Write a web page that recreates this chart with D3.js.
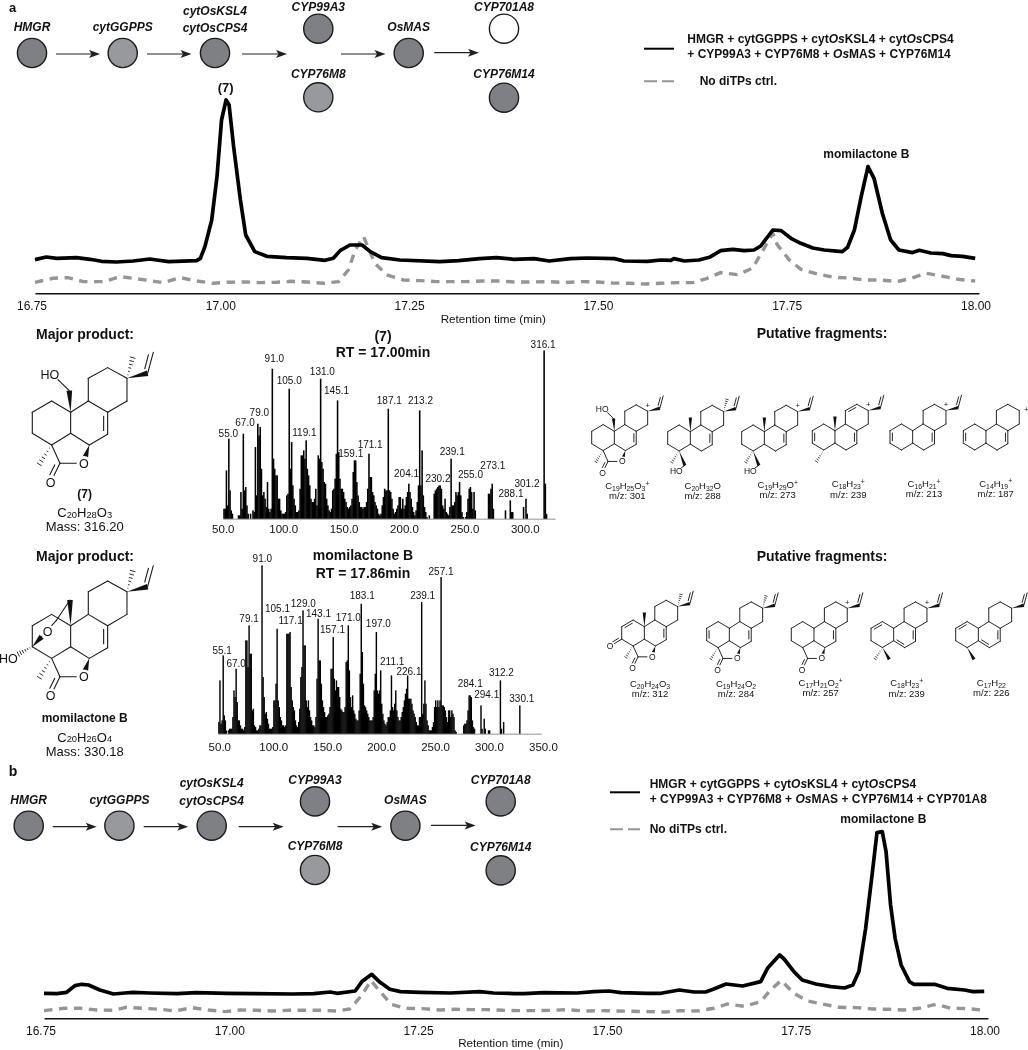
<!DOCTYPE html>
<html>
<head>
<meta charset="utf-8">
<script src="https://cdn.jsdelivr.net/npm/d3@7"></script>
<style>
    body { margin: 0; background: #fff; }
    svg { will-change: transform; }
    text { font-family: "Liberation Sans", Arial, sans-serif; fill: #111; }
</style>
</head>
<body>
<div id="chart"></div>
<script>
// ---- data ----
// chromatograms: [retention time (min), intensity]
const traceAMain = [[16.75,33.7],[16.765,36.3],[16.779,35],[16.805,35.7],[16.823,34],[16.838,32],[16.858,31.3],[16.88,32.3],[16.902,34.3],[16.911,33.3],[16.927,31.7],[16.964,32.7],[16.969,35],[16.975,46.7],[16.984,73.3],[16.991,116.7],[16.997,173.3],[17.003,193.3],[17.007,188.3],[17.013,146.7],[17.022,93.3],[17.029,58.3],[17.041,41.7],[17.057,37],[17.083,35.7],[17.11,35],[17.134,33],[17.145,35],[17.154,42.7],[17.167,48.3],[17.183,48.3],[17.194,41.7],[17.209,35.7],[17.233,33.3],[17.286,31.7],[17.311,32.7],[17.339,34.7],[17.361,35.7],[17.384,34],[17.411,34.7],[17.431,32.3],[17.459,34.7],[17.482,35.3],[17.517,34.7],[17.53,32.3],[17.561,32],[17.579,33.3],[17.592,33],[17.596,34.7],[17.61,32.3],[17.629,33.3],[17.643,36],[17.658,42.7],[17.674,44],[17.689,42.7],[17.702,43.3],[17.711,47.3],[17.727,63.3],[17.738,62.7],[17.751,55],[17.764,50],[17.78,45.3],[17.795,43.3],[17.819,41.7],[17.826,46],[17.835,63.3],[17.844,96.7],[17.853,126.7],[17.861,115],[17.872,80],[17.883,53.3],[17.894,43.3],[17.912,40.7],[17.921,43],[17.936,40.3],[17.952,39.7],[17.963,37.7],[17.978,37],[17.995,35]]
const traceACtrl = [[16.75,11],[16.774,15],[16.794,15.7],[16.814,11.7],[16.841,11.7],[16.863,16.7],[16.88,15],[16.902,12.7],[16.92,10.7],[16.942,15.7],[16.964,12.3],[16.986,10],[17.004,11],[17.03,11.3],[17.048,10.7],[17.07,11],[17.088,12],[17.11,11.3],[17.132,10],[17.152,11.7],[17.165,23.3],[17.174,43.3],[17.185,56.7],[17.2,30],[17.216,18.3],[17.238,13.3],[17.26,12.7],[17.282,11.7],[17.322,11.7],[17.344,12.3],[17.366,12.3],[17.384,11.3],[17.407,11.3],[17.429,11.7],[17.451,10.7],[17.473,11.7],[17.495,11.3],[17.515,10.3],[17.537,10],[17.557,9.3],[17.579,10],[17.601,10.7],[17.621,10.7],[17.64,15],[17.658,20.7],[17.68,18.7],[17.7,25],[17.713,41.7],[17.727,60],[17.733,48.3],[17.749,33.3],[17.764,24],[17.786,19.3],[17.808,16],[17.828,15.3],[17.848,13.3],[17.87,13.3],[17.892,11.7],[17.91,15],[17.93,20],[17.95,17.3],[17.972,14],[17.995,12.3]]
const traceBMain = [[16.75,25],[16.767,24.7],[16.78,26],[16.791,32.7],[16.8,34],[16.809,33.3],[16.824,28.3],[16.842,24.3],[16.857,25.3],[16.868,26],[16.89,25.3],[16.926,24.7],[16.952,25.7],[16.992,25],[17.027,24.7],[17.08,24.3],[17.107,24.7],[17.129,26.3],[17.138,25],[17.162,27.3],[17.171,36.7],[17.184,44],[17.195,36],[17.208,29],[17.222,26.7],[17.248,26],[17.288,25.3],[17.327,26.7],[17.345,25.3],[17.373,24.7],[17.386,24.7],[17.412,25.7],[17.456,25.3],[17.478,26.7],[17.498,27.3],[17.514,25.7],[17.549,25],[17.567,25],[17.591,28.3],[17.611,26.3],[17.626,26.3],[17.637,29.3],[17.653,34.3],[17.675,32.3],[17.699,36.7],[17.708,50],[17.724,63.3],[17.73,59.3],[17.743,46.7],[17.754,38.3],[17.772,34.3],[17.792,31.7],[17.81,30.3],[17.821,33.3],[17.829,46.7],[17.838,90],[17.847,146.7],[17.853,185.7],[17.86,186.7],[17.865,166.7],[17.871,113.3],[17.877,80],[17.885,53.3],[17.896,36.7],[17.902,34],[17.929,34],[17.946,30],[17.969,28.3],[17.98,26.7],[17.995,27]]
const traceBCtrl = [[16.75,7.7],[16.776,10],[16.798,10],[16.82,8.3],[16.842,8],[16.859,11],[16.882,10],[16.904,9],[16.924,7.3],[16.946,10.7],[16.968,8.3],[16.99,6.7],[17.01,8.3],[17.032,8],[17.054,7.3],[17.074,8],[17.093,8],[17.116,8],[17.138,7.3],[17.155,9.3],[17.171,23.3],[17.183,37.7],[17.195,26.7],[17.21,14],[17.228,10],[17.252,9.7],[17.274,8.3],[17.294,9],[17.314,8.7],[17.336,8.7],[17.358,8],[17.379,7.7],[17.401,7.7],[17.423,8],[17.443,8.7],[17.465,7.3],[17.487,7.7],[17.509,7.3],[17.529,7],[17.551,6.7],[17.573,6.3],[17.593,7.7],[17.615,7.3],[17.637,10],[17.655,14.3],[17.677,12],[17.699,16.7],[17.712,28.3],[17.726,37.7],[17.743,25],[17.761,17.3],[17.783,14],[17.803,11],[17.825,10.7],[17.847,9.3],[17.869,9],[17.889,8.3],[17.909,10],[17.931,14],[17.951,10],[17.973,9.7],[17.995,8]]
const rtTicks = [16.75, 17, 17.25, 17.5, 17.75, 18]

// mass spectra: [m/z, relative intensity]
const spec7Peaks = [[51,6],[52,6],[53,29],[54,8],[55,48],[56,17],[57,5],[58,3],[63,2],[64,2],[65,16],[66,6],[67,51],[68,17],[69,19],[70,8],[71,3],[73,3],[75,5],[76,4],[77,43],[78,14],[79,57],[80,50],[81,55],[82,30],[83,14],[84,16],[85,12],[86,7],[87,22],[88,6],[89,4],[90,6],[91,90],[92,36],[93,30],[94,26],[95,26],[96,12],[97,12],[98,5],[99,3],[100,3],[101,3],[102,4],[103,14],[104,15],[105,78],[106,30],[107,46],[108,20],[109,12],[110,8],[111,4],[112,4],[113,5],[114,18],[115,38],[116,38],[117,41],[118,36],[119,47],[120,30],[121,26],[122,20],[123,12],[124,10],[125,10],[126,12],[127,18],[128,8],[129,38],[130,36],[131,84],[132,34],[133,30],[134,22],[135,21],[136,12],[137,8],[138,5],[139,4],[140,6],[141,17],[142,18],[143,24],[144,39],[145,71],[146,40],[147,24],[148,18],[149,18],[150,16],[151,12],[152,10],[153,7],[154,6],[155,7],[156,8],[157,12],[158,28],[159,35],[160,35],[161,22],[162,14],[163,10],[164,7],[165,7],[166,6],[167,7],[168,7],[169,10],[170,18],[171,39],[172,25],[173,25],[174,16],[175,14],[176,10],[177,8],[178,6],[179,3],[180,2],[181,3],[182,8],[183,13],[184,18],[185,17],[186,17],[187,66],[188,17],[189,16],[190,12],[191,6],[192,3],[193,4],[194,6],[195,8],[196,13],[197,13],[198,6],[199,12],[200,6],[201,8],[202,13],[203,16],[204,21],[205,16],[206,12],[207,7],[208,4],[209,2],[210,5],[211,10],[212,20],[213,65],[214,20],[215,41],[216,14],[217,7],[218,4],[219,1],[221,2],[225,15],[226,17],[227,18],[228,19],[229,20],[230,20],[231,18],[232,8],[233,6],[234,12],[235,4],[236,3],[237,2],[238,7],[239,36],[240,8],[241,8],[242,10],[243,16],[244,14],[245,16],[246,22],[247,14],[248,4],[249,1],[251,1],[252,4],[253,12],[254,18],[255,19],[256,16],[257,6],[258,16],[259,5],[270,15],[271,15],[272,18],[273,21],[274,6],[284,5],[288,11],[289,4],[290,4],[299,7],[301,12],[302,3],[316,101],[317,21],[318,3]]
const specMomPeaks = [[51,7],[52,32],[53,6],[54,8],[55,47],[56,11],[57,8],[58,2],[60,2],[61,3],[62,3],[63,3],[64,10],[65,26],[66,22],[67,39],[68,19],[69,8],[70,8],[71,5],[72,3],[73,3],[74,2],[75,4],[76,56],[77,56],[78,40],[79,65],[80,48],[81,48],[82,14],[83,15],[84,5],[85,4],[86,2],[87,2],[88,3],[89,5],[90,5],[91,101],[92,34],[93,22],[94,12],[95,13],[96,9],[97,6],[98,3],[99,3],[100,3],[101,4],[102,20],[103,20],[104,30],[105,63],[106,20],[107,16],[108,10],[109,8],[110,5],[111,5],[112,4],[113,5],[114,60],[115,60],[116,60],[117,61],[118,28],[119,20],[120,16],[121,14],[122,8],[123,5],[124,4],[125,7],[126,15],[127,34],[128,40],[129,74],[130,53],[131,53],[132,20],[133,16],[134,20],[135,14],[136,10],[137,8],[138,5],[139,5],[140,4],[141,10],[142,33],[143,69],[144,44],[145,44],[146,30],[147,20],[148,16],[149,13],[150,10],[151,10],[152,11],[153,12],[154,16],[155,39],[156,39],[157,58],[158,33],[159,26],[160,32],[161,28],[162,28],[163,22],[164,15],[165,14],[166,13],[167,13],[168,16],[169,43],[170,44],[171,65],[172,38],[173,22],[174,16],[175,23],[176,14],[177,12],[178,9],[179,8],[180,8],[181,14],[182,36],[183,78],[184,49],[185,30],[186,17],[187,16],[188,14],[189,12],[190,10],[191,8],[192,8],[193,8],[194,10],[195,26],[196,36],[197,61],[198,26],[199,24],[200,26],[201,38],[202,18],[203,12],[204,8],[205,6],[206,5],[207,7],[208,10],[209,10],[210,14],[211,35],[212,16],[213,14],[214,18],[215,26],[216,14],[217,10],[218,8],[219,8],[220,10],[221,13],[222,16],[223,20],[224,24],[225,27],[226,35],[227,21],[228,21],[229,21],[230,18],[231,14],[232,12],[233,10],[234,7],[235,5],[236,5],[237,10],[238,10],[239,79],[240,12],[241,18],[242,32],[243,18],[244,8],[245,5],[246,2],[247,2],[248,2],[249,4],[250,7],[251,16],[252,20],[253,16],[254,20],[255,16],[256,20],[257,94],[258,17],[259,17],[260,16],[261,14],[262,10],[263,7],[264,14],[265,14],[266,10],[267,14],[268,12],[269,10],[270,2],[271,1],[278,5],[279,6],[280,6],[281,8],[282,14],[283,23],[284,23],[285,22],[286,8],[287,4],[288,3],[294,17],[295,3],[297,9],[298,3],[301,2],[302,2],[312,32],[313,3],[315,7],[330,17]]
const spec7Labels = ["55.0","67.0","79.0","91.0","105.0","119.1","131.0","145.1","159.1","171.1","187.1","204.1","213.2","230.2","239.1","255.0","273.1","288.1","301.2","316.1"]
const specMomLabels = ["55.1","67.0","79.1","91.0","105.1","117.1","129.0","143.1","157.1","171.0","183.1","197.0","211.1","226.1","239.1","257.1","284.1","294.1","312.2","330.1"]
const spec7Ticks = [50, 100, 150, 200, 250, 300]
const specMomTicks = [50, 100, 150, 200, 250, 300, 350]

// ---- where the labels sit relative to their peak, [dx, dy] ----
const spec7Nudge = [[-.5,5.7],[1.7,11.7],[1.5,11.7],[2,10],[0,8.3],[-1.7,7.7],[1.7,7.3],[-1,10],[-3.7,6.7],[1.2,9.3],[1,8.7],[-2.3,10],[.8,9.7],[-2.3,6.7],[1.1,7.7],[0,13],[.7,18.3],[.7,6.7],[1,15.3],[-1,5.7]]
const specMomNudge = [[-1,5],[0,5.3],[0,6.7],[.3,7.3],[.4,20],[.5,11.3],[.3,7.3],[.4,5.3],[-.7,8],[0,7.7],[1,8.3],[2,8.7],[.7,14],[1.3,3.7],[1,6.7],[0,5.7],[0,11.7],[5.7,11.3],[1,8.3],[2,7.3]]

const DARK = "#7e8083", LIGHT = "#98999c", GREY = "#939598"

const svg = d3.select("#chart").append("svg")
    .attr("width", 1028)
    .attr("height", 1050)
    .style("display", "block")

// text helper: *italic*, _sub_, ^sup^
function addText(x, y, str, size, opts) {
    opts = opts || {}
    let t = svg.append("text")
        .attr("x", x).attr("y", y)
        .attr("font-size", size)
        .attr("text-anchor", opts.anchor || "middle")
        .attr("dy", ".35em")
        .attr("font-weight", opts.bold ? "bold" : "normal")
        .attr("font-style", opts.italic ? "italic" : "normal")
    let parts = str.split(/(\*[^*]+\*|_[^_]+_|\^[^^]+\^)/).filter(d => d !== "")
    let shift = 0
    parts.forEach(function (p) {
        let ts = t.append("tspan")
        let dy = 0
        if (p[0] === "*") { ts.text(p.slice(1, -1)).attr("font-style", "italic") }
        else if (p[0] === "_") { ts.text(p.slice(1, -1)).attr("font-size", size * .72); dy = size * (opts.subShift === undefined ? .2 : opts.subShift) }
        else if (p[0] === "^") { ts.text(p.slice(1, -1)).attr("font-size", size * .72); dy = -size * .35 }
        else { ts.text(p) }
        if (dy - shift !== 0) ts.attr("dy", dy - shift)
        shift = dy
    })
    return t
}

// ---- pathway cartoons ----
function pathway(dx, dy, lastFill) {
    let nodes = [
        { c: [32, 53], f: DARK, l: [["HMGR", 26.7]] },
        { c: [122.7, 53], f: LIGHT, l: [["cytGGPPS", 26.7]] },
        { c: [215, 53], f: DARK, l: [["cytOsKSL4", 10.3], ["cytOsCPS4", 27.7]] },
        { c: [318.3, 28.7], f: DARK, l: [["CYP99A3", 6.7]] },
        { c: [318.3, 97.3], f: LIGHT, l: [["CYP76M8", 73.3]] },
        { c: [408.7, 53], f: DARK, l: [["OsMAS", 26.7]] },
        { c: [504, 28.7], f: lastFill, l: [["CYP701A8", 6.7]] },
        { c: [504, 97.7], f: DARK, l: [["CYP76M14", 74]] }
    ]
    nodes.forEach(function (n) {
        svg.append("circle")
            .attr("cx", n.c[0] + dx).attr("cy", n.c[1] + dy).attr("r", 14.6)
            .attr("fill", n.f).attr("stroke", "#1c1a1b").attr("stroke-width", 1.4)
        n.l.forEach(function (l) {
            addText(n.c[0] + dx, l[1] + dy, l[0], 12, { bold: true, italic: true })
        })
    })
    let arrows = [[56, 100, 54], [147, 191.5, 54], [242, 287, 54], [341, 385.5, 54], [434.3, 479, 52.7]]
    arrows.forEach(function (a) {
        svg.append("line")
            .attr("x1", a[0] + dx).attr("x2", a[1] - 6 + dx)
            .attr("y1", a[2] + dy).attr("y2", a[2] + dy)
            .attr("stroke", "#231f20").attr("stroke-width", 1.2)
        let tip = a[1] + dx, yy = a[2] + dy
        svg.append("path")
            .attr("d", `M${tip},${yy}L${tip - 11},${yy - 4}L${tip - 8.5},${yy}L${tip - 11},${yy + 4}Z`)
            .attr("fill", "#231f20")
    })
}
pathway(0, 0, "#fff")
pathway(-3.3, 772.7, DARK)

// ---- chromatograms ----
function chromatogram(main, ctrl, x0, base) {
    let x = d3.scaleLinear().domain([16.75, 18]).range([x0, x0 + 944])
    let y = d3.scaleLinear().domain([0, 200]).range([base, base - 200])
    let line = d3.line().x(d => x(d[0])).y(d => y(d[1]))

    let axis = svg.append("g")
        .attr("transform", `translate(0,${base})`)
        .call(d3.axisBottom(x).tickValues(rtTicks).tickSize(0).tickPadding(8).tickFormat(d3.format(".2f")))
    axis.select(".domain").attr("stroke", "#111").attr("stroke-width", 1.6)
    axis.selectAll("text")
        .attr("font-size", 12)
        .attr("font-family", "Liberation Sans")
        .attr("dx", -3.5)

    svg.append("path").datum(ctrl)
        .attr("fill", "none").attr("stroke", GREY).attr("stroke-width", 3.4)
        .attr("stroke-dasharray", "8.5,6.5")
        .attr("d", line)
    svg.append("path").datum(main)
        .attr("fill", "none").attr("stroke", "#000").attr("stroke-width", 3.7)
        .attr("stroke-linejoin", "round")
        .attr("d", line)
}
chromatogram(traceAMain, traceACtrl, 35, 293.3)
chromatogram(traceBMain, traceBCtrl, 44, 1018.3)

addText(493.3, 319, "Retention time (min)", 11.7)
addText(510.8, 1043.3, "Retention time (min)", 11.7)
addText(225.7, 87.3, "(7)", 13, { bold: true })
addText(866.3, 153.7, "momilactone B", 12, { bold: true })
addText(883.3, 819, "momilactone B", 12, { bold: true })
addText(12.5, 7.5, "a", 13, { bold: true })
addText(13, 770.7, "b", 14, { bold: true })

// legends
function legendLine(x1, x2, y, grey) {
    if (grey) {
        svg.append("line").attr("x1", x1).attr("x2", x2).attr("y1", y).attr("y2", y)
            .attr("stroke", GREY).attr("stroke-width", 2).attr("stroke-dasharray", "13,5")
    } else {
        svg.append("line").attr("x1", x1).attr("x2", x2).attr("y1", y).attr("y2", y)
            .attr("stroke", "#000").attr("stroke-width", 2)
    }
}
legendLine(644, 674, 48.7)
legendLine(644, 674, 81.3, true)
addText(687.3, 39, "HMGR + cytGGPPS + cyt*Os*KSL4 + cyt*Os*CPS4", 12, { bold: true, anchor: "start" })
addText(687.3, 53.3, "+ CYP99A3 + CYP76M8 + *Os*MAS + CYP76M14", 12, { bold: true, anchor: "start" })
addText(699.7, 81, "No diTPs ctrl.", 12, { bold: true, anchor: "start" })
legendLine(610, 640, 792.3)
legendLine(610, 640, 829.3, true)
addText(649.7, 783.7, "HMGR + cytGGPPS + cyt*Os*KSL4 + cyt*Os*CPS4", 12, { bold: true, anchor: "start" })
addText(649.7, 798.3, "+ CYP99A3 + CYP76M8 + *Os*MAS + CYP76M14 + CYP701A8", 12, { bold: true, anchor: "start" })
addText(649.7, 829, "No diTPs ctrl.", 12, { bold: true, anchor: "start" })

// ---- mass spectra ----
function spectrum(peaks, labels, nudge, ticks, xDomain, xRange, base, tickPad, tickDx) {
    let x = d3.scaleLinear().domain(xDomain).range(xRange)
    let y = d3.scaleLinear().domain([0, 101]).range([base, base - 168.3])
    let barW = Math.abs(x(51) - x(50)) + .35

    let axis = svg.append("g")
        .attr("transform", `translate(0,${base})`)
        .call(d3.axisBottom(x).tickValues(ticks).tickSize(0).tickPadding(tickPad).tickFormat(d3.format(".1f")))
    axis.select(".domain").attr("stroke", "#b5b5b5").attr("stroke-width", 1.4)
    axis.selectAll("text")
        .attr("font-size", 11.5)
        .attr("font-family", "Liberation Sans")
        .attr("dx", tickDx)

    svg.selectAll(null)
        .data(peaks)
        .enter().append("rect")
        .attr("x", d => x(d[0]) - barW / 2)
        .attr("width", barW)
        .attr("y", d => y(d[1]))
        .attr("height", d => base - y(d[1]))
        .attr("fill", "#000")

    labels.forEach(function (l, i) {
        let mz = Math.round(+l)
        let p = peaks.find(d => d[0] === mz)
        addText(x(mz) + nudge[i][0], y(p ? p[1] : 0) - nudge[i][1], l, 10)
    })
}
spectrum(spec7Peaks, spec7Labels, spec7Nudge, spec7Ticks, [50, 325], [222.8, 555], 518.7, 6.5, 0)
spectrum(specMomPeaks, specMomLabels, specMomNudge, specMomTicks, [50, 350], [217.8, 541.4], 733.7, 9, 1.5)

addText(383, 336, "(7)", 14, { bold: true })
addText(383, 352, "RT = 17.00min", 14, { bold: true })
addText(363, 555, "momilactone B", 14, { bold: true })
addText(363, 572.7, "RT = 17.86min", 14, { bold: true })

// ---- structures ----
// atom positions in a local drawing unit, shared ring skeleton
const P = {
    r1: [265, 160], r2: [323, 128], r3: [381, 160], r4: [381, 228], r5: [323, 262], r6: [265, 228],
    b1: [212, 262], b2: [212, 325], b3: [268, 360], b4: [323, 328],
    a1: [155, 228], a2: [97, 262], a3: [97, 325], a4: [155, 360],
    lc: [180, 415], lo: [252, 415], co: [152, 472], lw: [256, 397],
    v1: [443, 145], v2: [460, 82], vm: [398, 98],
    me: [212, 190], ch2: [208, 197], oh: [170, 160], hoT: [150, 150],
    m4h: [118, 418], m4w: [190, 420], c19: [184, 433], oh2: [150, 456], hoB: [141, 464],
    ko: [38, 361], br: [210, 185], br2: [170, 245], bo: [143, 280], bw: [125, 295], hh: [55, 347], hoL: [25, 360]
}
const ringBonds = [["r1","r2"],["r2","r3"],["r3","r4"],["r4","r5"],["r5","r6"],["r6","r1"],["r6","b1"],["r5","b4"],["b4","b3"],["b3","b2"],["b2","b1"],["b1","a1"],["a1","a2"],["a2","a3"],["a3","a4"],["a4","b2"]]

function molecule(ox, oy, s, m, lw, fs) {
    let px = k => {
        let q = typeof k === "string" ? P[k] : k
        return [ox + (q[0] - 97) * s, oy + (q[1] - 262) * s]
    }
    let g = svg.append("g")
    let bond = function (a, b) {
        let p = px(a), q = px(b)
        g.append("line").attr("x1", p[0]).attr("y1", p[1]).attr("x2", q[0]).attr("y2", q[1])
            .attr("stroke", "#1a1a1a").attr("stroke-width", lw).attr("stroke-linecap", "round")
    }
    let wedge = function (a, b) {
        let p = px(a), q = px(b)
        let len = Math.hypot(q[0] - p[0], q[1] - p[1])
        let nx = -(q[1] - p[1]) / len * 8.5 * s, ny = (q[0] - p[0]) / len * 8.5 * s
        g.append("path").attr("d", `M${p[0]},${p[1]}L${q[0] + nx},${q[1] + ny}L${q[0] - nx},${q[1] - ny}Z`).attr("fill", "#111")
    }
    let hash = function (a, b) {
        let p = px(a), q = px(b)
        let len = Math.hypot(q[0] - p[0], q[1] - p[1])
        let nx = -(q[1] - p[1]) / len, ny = (q[0] - p[0]) / len
        for (let i = 1; i <= 6; i++) {
            let f = i / 6, w = 8.5 * s * f
            let cx = p[0] + (q[0] - p[0]) * f, cy = p[1] + (q[1] - p[1]) * f
            g.append("line").attr("x1", cx - nx * w).attr("y1", cy - ny * w).attr("x2", cx + nx * w).attr("y2", cy + ny * w)
                .attr("stroke", "#111").attr("stroke-width", lw * .8)
        }
    }
    // second line of a double bond, pushed towards the point "side"
    let dbl = function (a, b, side) {
        let p = px(a), q = px(b), c = px(side)
        let len = Math.hypot(q[0] - p[0], q[1] - p[1])
        let nx = -(q[1] - p[1]) / len, ny = (q[0] - p[0]) / len
        if ((c[0] - p[0]) * nx + (c[1] - p[1]) * ny < 0) { nx = -nx; ny = -ny }
        let off = 12 * s
        let ux = (q[0] - p[0]) / len * 10 * s, uy = (q[1] - p[1]) / len * 10 * s
        g.append("line")
            .attr("x1", p[0] + nx * off + ux).attr("y1", p[1] + ny * off + uy)
            .attr("x2", q[0] + nx * off - ux).attr("y2", q[1] + ny * off - uy)
            .attr("stroke", "#1a1a1a").attr("stroke-width", lw)
    }
    ringBonds.forEach(d => bond(d[0], d[1]));
    (m.bonds || []).forEach(d => bond(d[0], d[1]));
    (m.wedges || []).forEach(d => wedge(d[0], d[1]));
    (m.hashes || []).forEach(d => hash(d[0], d[1]));
    (m.doubles || []).forEach(d => dbl(d[0], d[1], d[2]));
    (m.atoms || []).forEach(function (d) {
        let p = px(d[1])
        // white disc so the bond stops at the letter
        if (d[0] !== "+") {
            g.append("circle").attr("cx", p[0]).attr("cy", p[1]).attr("r", fs * (d[0] === "O" ? .58 : .72)).attr("fill", "#fff")
        }
        g.append("text").attr("x", p[0]).attr("y", p[1]).attr("dy", ".35em")
            .attr("text-anchor", "middle").attr("font-size", d[0] === "+" ? fs * .9 : fs)
            .text(d[0])
    })
}

// shared pieces
const vinyl = { bonds: [["v1", "v2"]], wedges: [["r3", "v1"]], doubles: [["v1", "v2", [400, 90]]] }
const C7 = ["b4", "r5", "r6"]
const lac = {
    bonds: [["a4", "lc"], ["lc", "lo"], ["lc", "co"]],
    wedges: [["b3", "lw"]],
    doubles: [["lc", "co", [120, 420]]],
    atoms: [["O", "lo"], ["O", "co"]]
}
function merge() {
    let out = { bonds: [], wedges: [], hashes: [], doubles: [], atoms: [] }
    Array.from(arguments).forEach(function (m) {
        Object.keys(out).forEach(k => { out[k] = out[k].concat(m[k] || []) })
    })
    return out
}
const plusTop = { atoms: [["+", [381, 128]]] }
const c7dbl = { doubles: [C7] }
const vm = { hashes: [["r3", "vm"]] }
const ringADbl = { doubles: [["a2", "a3", "b2"]] }

const cpd7 = merge(vinyl, vm, lac, c7dbl, { bonds: [["ch2", "oh"]], wedges: [["b1", "ch2"]], hashes: [["a4", "m4h"]], atoms: [["HO", "hoT"]] })
const cpdMom = merge(vinyl, vm, lac, c7dbl, {
    bonds: [["br", "br2"], ["br2", "bw"]],
    wedges: [["b1", "br"], ["a3", "bw"]],
    hashes: [["a4", "m4h"], ["a3", "hh"]],
    atoms: [["O", "bo"], ["HO", "hoL"]]
})
molecule(32.3, 412.3, 1 / 3, cpd7, 1.1, 12.5)
molecule(32.3, 625.7, 1 / 3, cpdMom, 1.1, 12.5)

const fragments = [
    [591.7, 431.3, merge(vinyl, plusTop, lac, c7dbl, { bonds: [["ch2", "oh"]], wedges: [["b1", "ch2"]], hashes: [["a4", "m4h"]], atoms: [["HO", "hoT"]] })],
    [667.7, 431.7, merge(vinyl, vm, c7dbl, { bonds: [["c19", "oh2"]], wedges: [["b1", "me"], ["a4", "c19"]], hashes: [["a4", "m4h"]], atoms: [["HO", "hoB"]] })],
    [741.7, 431.7, merge(vinyl, plusTop, c7dbl, { bonds: [["c19", "oh2"]], wedges: [["b1", "me"], ["a4", "c19"]], hashes: [["a4", "m4h"]], atoms: [["HO", "hoB"]] })],
    [812.3, 430.7, merge(vinyl, plusTop, c7dbl, ringADbl, { wedges: [["b1", "me"]], hashes: [["a4", "m4h"]], doubles: [["r1", "r2", "r3"]] })],
    [890, 430.7, merge(vinyl, plusTop, c7dbl, ringADbl)],
    [963.3, 430.7, merge(c7dbl, ringADbl, { atoms: [["+", [417, 152]]] })],
    [621.7, 626.7, merge(vinyl, vm, lac, c7dbl, { bonds: [["a3", "ko"]], wedges: [["b1", "me"]], hashes: [["a4", "m4h"]], doubles: [["a1", "a2", "b2"], ["a3", "ko", [40, 300]]], atoms: [["O", "ko"]] })],
    [706.7, 628.3, merge(vinyl, vm, lac, c7dbl, ringADbl, { hashes: [["a4", "m4h"]] })],
    [791.3, 628.3, merge(vinyl, plusTop, lac, c7dbl)],
    [871, 628.3, merge(vinyl, plusTop, c7dbl, { wedges: [["a4", "m4w"]], hashes: [["a4", "m4h"]], doubles: [["a1", "a2", "b2"], ["b2", "b3", "r5"]] })],
    [955.7, 628.3, merge(vinyl, c7dbl, { wedges: [["a4", "m4w"]], doubles: [["a1", "a2", "b2"], ["b2", "b3", "r5"]] })]
]
fragments.forEach(d => molecule(d[0], d[1], .197, d[2], .95, 8.5))

const fragCaptions = [
    ["C_19_H_25_O_3_^+^", "m/z: 301"], ["C_20_H_32_O", "m/z: 288"], ["C_19_H_29_O^+^", "m/z: 273"],
    ["C_18_H_23_^+^", "m/z: 239"], ["C_16_H_21_^+^", "m/z: 213"], ["C_14_H_19_^+^", "m/z: 187"],
    ["C_20_H_24_O_3_", "m/z: 312"], ["C_19_H_24_O_2_", "m/z: 284"], ["C_17_H_21_O_2_^+^", "m/z: 257"],
    ["C_18_H_23_^+^", "m/z: 239"], ["C_17_H_22_", "m/z: 226"]
]
const captionPos = [[627.3, 486, 496], [702.7, 486, 496], [777.7, 485, 495], [848.3, 484, 494.3], [924, 483.7, 494], [995.7, 483.3, 493.3],
    [650, 683.3, 693.3], [736, 683.3, 693.3], [820.7, 682.7, 692.7], [906.7, 682.7, 693.3], [991.3, 682.7, 692.7]]
fragCaptions.forEach(function (c, i) {
    addText(captionPos[i][0], captionPos[i][1], c[0], 9.5)
    addText(captionPos[i][0], captionPos[i][2], c[1], 9.5)
})

addText(822, 333, "Putative fragments:", 14, { bold: true })
addText(822, 556, "Putative fragments:", 14, { bold: true })
addText(85, 334.3, "Major product:", 14, { bold: true })
addText(85, 556, "Major product:", 14, { bold: true })
addText(84.7, 493.3, "(7)", 12, { bold: true })
addText(84.7, 512.3, "C_20_H_28_O_3_", 13, { subShift: .05 })
addText(84.7, 526, "Mass: 316.20", 13)
addText(84.7, 718, "momilactone B", 12, { bold: true })
addText(84.7, 737, "C_20_H_26_O_4_", 13, { subShift: .05 })
addText(84.7, 751, "Mass: 330.18", 13)
</script>
</body>
</html>
